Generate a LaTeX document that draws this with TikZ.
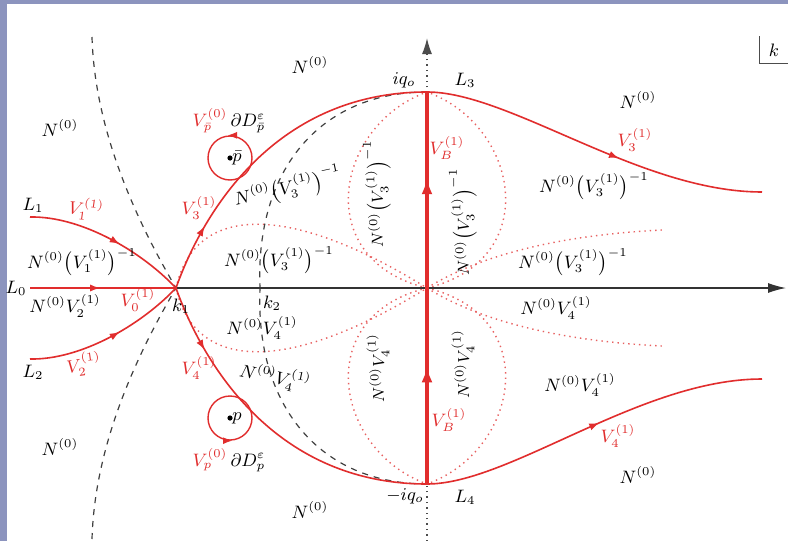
\documentclass[tikz,border=0pt]{standalone}
\usetikzlibrary{arrows.meta,decorations.markings}
\definecolor{curvered}{RGB}{225,45,45}
\definecolor{framegray}{RGB}{140,148,190}
\tikzset{
  redcurve/.style={curvered, line width=0.8pt},
  lensline/.style={draw=curvered!75, dotted, line width=0.7pt},
  cutline/.style={draw=black!75, dashed, line width=0.6pt},
  redtip/.style={postaction={decorate}, decoration={markings,
      mark=at position #1 with {\arrow{Latex[length=5pt,width=3.6pt]}}}},
  rlab/.style={text=curvered},
  uplab/.style={rotate=90, font=\footnotesize},
}
\begin{document}
\begin{tikzpicture}[x=0.5pt, y=-0.5pt, every node/.style={font=\small}]
  % frame of the screenshot
  \fill[framegray] (0,0) rectangle (788,541);
  \fill[white] (7,4) rectangle (788,541);
  \useasboundingbox (0,0) rectangle (788,541);

  % main points
  \coordinate (k1) at (176,288);
  \coordinate (k2) at (260,288);
  \coordinate (O) at (427,288);
  \coordinate (iqo) at (427,92);
  \coordinate (miqo) at (427,484);
  \coordinate (L0s) at (30,288);
  \coordinate (L1s) at (30,217);
  \coordinate (L2s) at (30,359);
  \coordinate (L3e) at (762,192);
  \coordinate (L4e) at (762,379);
  \coordinate (haxis) at (786,288);
  \coordinate (vtop) at (427,38);
  \coordinate (vbot) at (427,541);
  \coordinate (cuttop) at (92,37);
  \coordinate (cutbot) at (92,539);
  \coordinate (lensUR) at (662,230);
  \coordinate (lensLR) at (662,346);

  % dotted lenses
  \draw[lensline] (k1) .. controls (195,203) and (290,203) .. (O);
  \draw[lensline] (k1) .. controls (195,373) and (290,373) .. (O);
  \draw[lensline] (O) .. controls (480,255) and (560,235) .. (lensUR);
  \draw[lensline] (O) .. controls (480,321) and (560,341) .. (lensLR);
  \draw[lensline] (O) .. controls (310,260) and (335,125) .. (iqo);
  \draw[lensline] (O) .. controls (544,260) and (519,125) .. (iqo);
  \draw[lensline] (O) .. controls (310,316) and (335,451) .. (miqo);
  \draw[lensline] (O) .. controls (544,316) and (519,451) .. (miqo);

  % dashed curves
  \draw[cutline] (cuttop) .. controls (95,140) and (145,235) .. (k1);
  \draw[cutline] (cutbot) .. controls (95,436) and (145,341) .. (k1);
  \draw[cutline] (iqo) .. controls (320,92) and (255,170) .. (k2);
  \draw[cutline] (miqo) .. controls (320,484) and (255,406) .. (k2);

  % axes
  \draw[black!70, dotted, line width=0.7pt, -{Latex[length=8pt,width=5pt]}] (vbot) -- (vtop);
  \draw[black!80, line width=0.6pt, -{Latex[length=9pt,width=5pt]}] (k1) -- (haxis);

  % jumps
  \draw[redcurve, redtip=0.57] (L1s) .. controls (80,216) and (140,250) .. (k1);
  \draw[redcurve, redtip=0.48] (L0s) -- (k1);
  \draw[redcurve, redtip=0.57] (L2s) .. controls (80,360) and (140,326) .. (k1);
  \draw[redcurve, redtip=0.2] (k1) .. controls (200,220) and (270,92) .. (iqo);
  \draw[redcurve, redtip=0.2] (k1) .. controls (200,356) and (270,484) .. (miqo);
  \draw[redcurve, redtip=0.58] (iqo) .. controls (510,92) and (640,192) .. (L3e);
  \draw[redcurve, redtip=0.52] (miqo) .. controls (510,484) and (640,379) .. (L4e);
  \draw[curvered, line width=2pt, postaction={decorate}, decoration={markings,
      mark=at position 0.3 with {\arrow{Latex[length=8pt,width=5.5pt]}},
      mark=at position 0.78 with {\arrow{Latex[length=8pt,width=5.5pt]}}}] (miqo) -- (iqo);

  % small circles
  \node[circle, draw=curvered, line width=0.7pt, minimum size=22pt, inner sep=0] (cpbar) at (230,158) {};
  \node[circle, draw=curvered, line width=0.7pt, minimum size=22pt, inner sep=0] (cp) at (230,418) {};
  \fill (cpbar.center) circle[radius=1.3pt];
  \fill (cp.center) circle[radius=1.3pt];
  \node[right, inner sep=1pt] (pbar) at (cpbar.center) {$\bar p$};
  \node[right, inner sep=1pt] (p) at (cp.center) {$p$};
  \draw[curvered, -{Latex[length=4.5pt,width=3.4pt]}] ([xshift=3pt]cpbar.north) -- ([xshift=-1pt]cpbar.north);
  \draw[curvered, -{Latex[length=4.5pt,width=3.4pt]}] ([xshift=-3pt]cp.south) -- ([xshift=1pt]cp.south);
  \node[inner sep=1pt] (dpbar) at (229,121) {\textcolor{curvered}{$V_{\bar p}^{(0)}$}\,$\partial D_{\bar p}^{\varepsilon}$};
  \node[inner sep=1pt] (dp) at (229,460) {\textcolor{curvered}{$V_{p}^{(0)}$}\,$\partial D_{p}^{\varepsilon}$};

  % region labels
  \foreach \pos [count=\n] in {(60,128),(310,65),(638,100),(60,447),(310,510),(638,475)}
    \node (N\n) at \pos {$N^{(0)}$};
  \node (nvone) at (82,262) {$N^{(0)}\bigl(V_1^{(1)}\bigr)^{-1}$};
  \node (nvtwo) at (65,306) {$N^{(0)}V_2^{(1)}$};
  \node[rotate=12] (nvthreea) at (288,188) {$N^{(0)}\bigl(V_3^{(1)}\bigr)^{-1}$};
  \node (nvthreeb) at (279,260) {$N^{(0)}\bigl(V_3^{(1)}\bigr)^{-1}$};
  \node (nvfoura) at (262,328) {$N^{(0)}V_4^{(1)}$};
  \node[rotate=-12] (nvfourb) at (275,377) {$N^{(0)}V_4^{(1)}$};
  \node[uplab] (lensA) at (377,194) {$N^{(0)}\bigl(V_3^{(1)}\bigr)^{-1}$};
  \node[uplab] (lensB) at (463,222) {$N^{(0)}\bigl(V_3^{(1)}\bigr)^{-1}$};
  \node[uplab] (lensC) at (378,368) {$N^{(0)}V_4^{(1)}$};
  \node[uplab] (lensD) at (463,364) {$N^{(0)}V_4^{(1)}$};
  \node (nvthreec) at (594,186) {$N^{(0)}\bigl(V_3^{(1)}\bigr)^{-1}$};
  \node (nvthreed) at (573,262) {$N^{(0)}\bigl(V_3^{(1)}\bigr)^{-1}$};
  \node (nvfourc) at (556,308) {$N^{(0)}V_4^{(1)}$};
  \node (nvfourd) at (580,385) {$N^{(0)}V_4^{(1)}$};

  % contour labels
  \node (Lzero) at (16,288) {$L_0$};
  \node (Lone) at (33,205) {$L_1$};
  \node (Ltwo) at (33,372) {$L_2$};
  \node (Lthree) at (465,80) {$L_3$};
  \node (Lfour) at (465,497) {$L_4$};
  \node[rlab, rotate=-8] (vone) at (86,209) {$V_1^{(1)}$};
  \node[rlab] (vzero) at (138,300) {$V_0^{(1)}$};
  \node[rlab, rotate=8] (vtwo) at (84,364) {$V_2^{(1)}$};
  \node[rlab] (vthreea) at (199,208) {$V_3^{(1)}$};
  \node[rlab] (vfoura) at (199,368) {$V_4^{(1)}$};
  \node[rlab] (vthreeb) at (635,140) {$V_3^{(1)}$};
  \node[rlab] (vfourb) at (618,436) {$V_4^{(1)}$};
  \node[rlab] (vba) at (447,148) {$V_B^{(1)}$};
  \node[rlab] (vbb) at (449,420) {$V_B^{(1)}$};
  \node (kone) at (181,306) {$k_1$};
  \node (ktwo) at (272,303) {$k_2$};
  \node (iqolab) at (404,80) {$iq_o$};
  \node (miqolab) at (405,496) {$-iq_o$};

  % plane label
  \node[minimum width=14pt, minimum height=13.5pt, inner sep=0] (kbox) at (774,50) {$k$};
  \draw[black!70, line width=0.5pt] (kbox.north west) |- (kbox.south east);
\end{tikzpicture}
\end{document}
